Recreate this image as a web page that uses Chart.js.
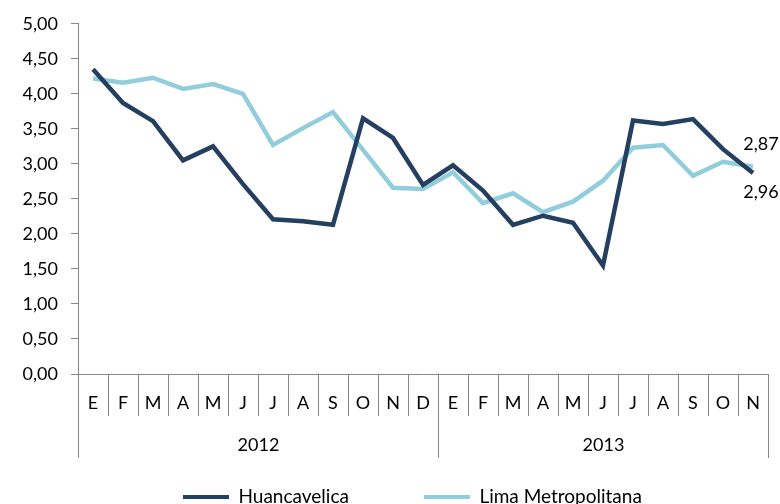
<!DOCTYPE html>
<html>
<head>
<meta charset="utf-8">
<script src="https://cdn.jsdelivr.net/npm/chart.js@4.4.0/dist/chart.umd.min.js"></script>
<style>
  html, body { margin: 0; padding: 0; background: #fff; overflow: hidden; }
  #wrap { width: 780px; height: 504px; overflow: hidden; }
</style>
</head>
<body>
<div id="wrap"><canvas id="chart" width="780" height="523"></canvas></div>
<script>
// DATA
const months = ["E", "F", "M", "A", "M", "J", "J", "A", "S", "O", "N", "D",
                "E", "F", "M", "A", "M", "J", "J", "A", "S", "O", "N"];
const years = ["2012", "2013"];
const yearLengths = [12, 11];
const huancavelica = [4.35, 3.87, 3.61, 3.05, 3.25, 2.71, 2.21, 2.18, 2.13, 3.65, 3.37, 2.70,
                      2.98, 2.62, 2.13, 2.26, 2.16, 1.55, 3.62, 3.57, 3.64, 3.21, 2.87];
const limaMetropolitana = [4.22, 4.16, 4.23, 4.07, 4.14, 4.00, 3.27, 3.51, 3.74, 3.20, 2.66, 2.64,
                           2.88, 2.44, 2.58, 2.31, 2.46, 2.76, 3.23, 3.27, 2.83, 3.03, 2.96];
const yMin = 0, yMax = 5, yStep = 0.5;

// STYLE
const darkBlue = "#243f60";
const lightBlue = "#92cddc";
const gridColor = "#868686";
const textColor = "#000";
const fontFamily = "Lato, 'Open Sans', sans-serif";

const fmt = v => v.toFixed(2).replace(".", ",");

// year row under the months + separators
const yearRow = {
    id: "yearRow",
    afterDraw(chart) {
        const x = chart.scales.x;
        const ctx = chart.ctx;
        ctx.save();
        ctx.strokeStyle = gridColor;
        ctx.lineWidth = 1;
        ctx.fillStyle = textColor;
        ctx.font = "18px " + fontFamily;
        ctx.textAlign = "center";
        ctx.textBaseline = "middle";
        let start = 0;
        const edge = i => Math.round(x.getPixelForValue(i - 0.5)) + 0.5;
        ctx.beginPath();
        ctx.moveTo(edge(0), x.top);
        ctx.lineTo(edge(0), 458);
        years.forEach((yr, i) => {
            const end = start + yearLengths[i];
            ctx.moveTo(edge(end), x.top);
            ctx.lineTo(edge(end), 458);
            ctx.fillText(yr, (edge(start) + edge(end)) / 2, 445);
            start = end;
        });
        ctx.stroke();
        ctx.restore();
    }
};

// value labels on the last point
const endLabels = {
    id: "endLabels",
    afterDatasetsDraw(chart) {
        const ctx = chart.ctx;
        const offsets = [-29, 26];
        ctx.save();
        ctx.fillStyle = textColor;
        ctx.font = "18px " + fontFamily;
        ctx.textAlign = "center";
        ctx.textBaseline = "middle";
        chart.data.datasets.forEach((ds, i) => {
            const last = ds.data.length - 1;
            const pt = chart.getDatasetMeta(i).data[last];
            ctx.fillText(fmt(ds.data[last]), pt.x + 8, pt.y + offsets[i]);
        });
        ctx.restore();
    }
};

// move legend down/right like the original
const legendPlace = {
    id: "legendPlace",
    afterLayout(chart) {
        const lg = chart.legend;
        const pad = lg.options.labels.padding;
        const h = lg.bottom - lg.top;
        const w = lg.right - lg.left;
        lg.left = 183 - pad;
        lg.right = lg.left + w;
        lg.top = 497 - pad - 9.5;
        lg.bottom = lg.top + h;
    }
};

const ctx = document.getElementById("chart").getContext("2d");
new Chart(ctx, {
    type: "line",
    data: {
        labels: months,
        datasets: [{
            label: "Huancavelica",
            data: huancavelica,
            borderColor: darkBlue,
            backgroundColor: darkBlue,
            borderWidth: 4.5,
            pointRadius: 0,
            tension: 0
        }, {
            label: "Lima Metropolitana",
            data: limaMetropolitana,
            borderColor: lightBlue,
            backgroundColor: lightBlue,
            borderWidth: 4.5,
            pointRadius: 0,
            tension: 0
        }]
    },
    options: {
        responsive: false,
        animation: false,
        layout: { padding: { top: 20, right: 12, left: 0, bottom: 0 } },
        plugins: {
            tooltip: { enabled: false },
            legend: {
                position: "bottom",
                align: "start",
                labels: {
                    boxWidth: 46,
                    boxHeight: 4,
                    padding: 75,
                    color: textColor,
                    font: { family: fontFamily, size: 19 },
                    generateLabels(chart) {
                        return Chart.defaults.plugins.legend.labels.generateLabels(chart)
                            .map(it => Object.assign(it, { lineWidth: 0 }));
                    }
                }
            }
        },
        scales: {
            x: {
                offset: true,
                grid: {
                    offset: true,
                    drawOnChartArea: false,
                    tickLength: 42,
                    color: gridColor
                },
                border: { color: gridColor },
                ticks: {
                    color: textColor,
                    padding: -24,
                    maxRotation: 0,
                    autoSkip: false,
                    font: { family: fontFamily, size: 18 }
                },
                afterFit(scale) { scale.height = 45; }
            },
            y: {
                min: yMin,
                max: yMax,
                grid: {
                    drawOnChartArea: false,
                    tickLength: 7,
                    color: gridColor
                },
                border: { color: gridColor },
                ticks: {
                    stepSize: yStep,
                    color: textColor,
                    padding: 13,
                    font: { family: fontFamily, size: 18 },
                    callback: v => fmt(v)
                },
                afterFit(scale) { scale.width = 78; }
            }
        }
    },
    plugins: [yearRow, endLabels, legendPlace]
});
</script>
</body>
</html>
